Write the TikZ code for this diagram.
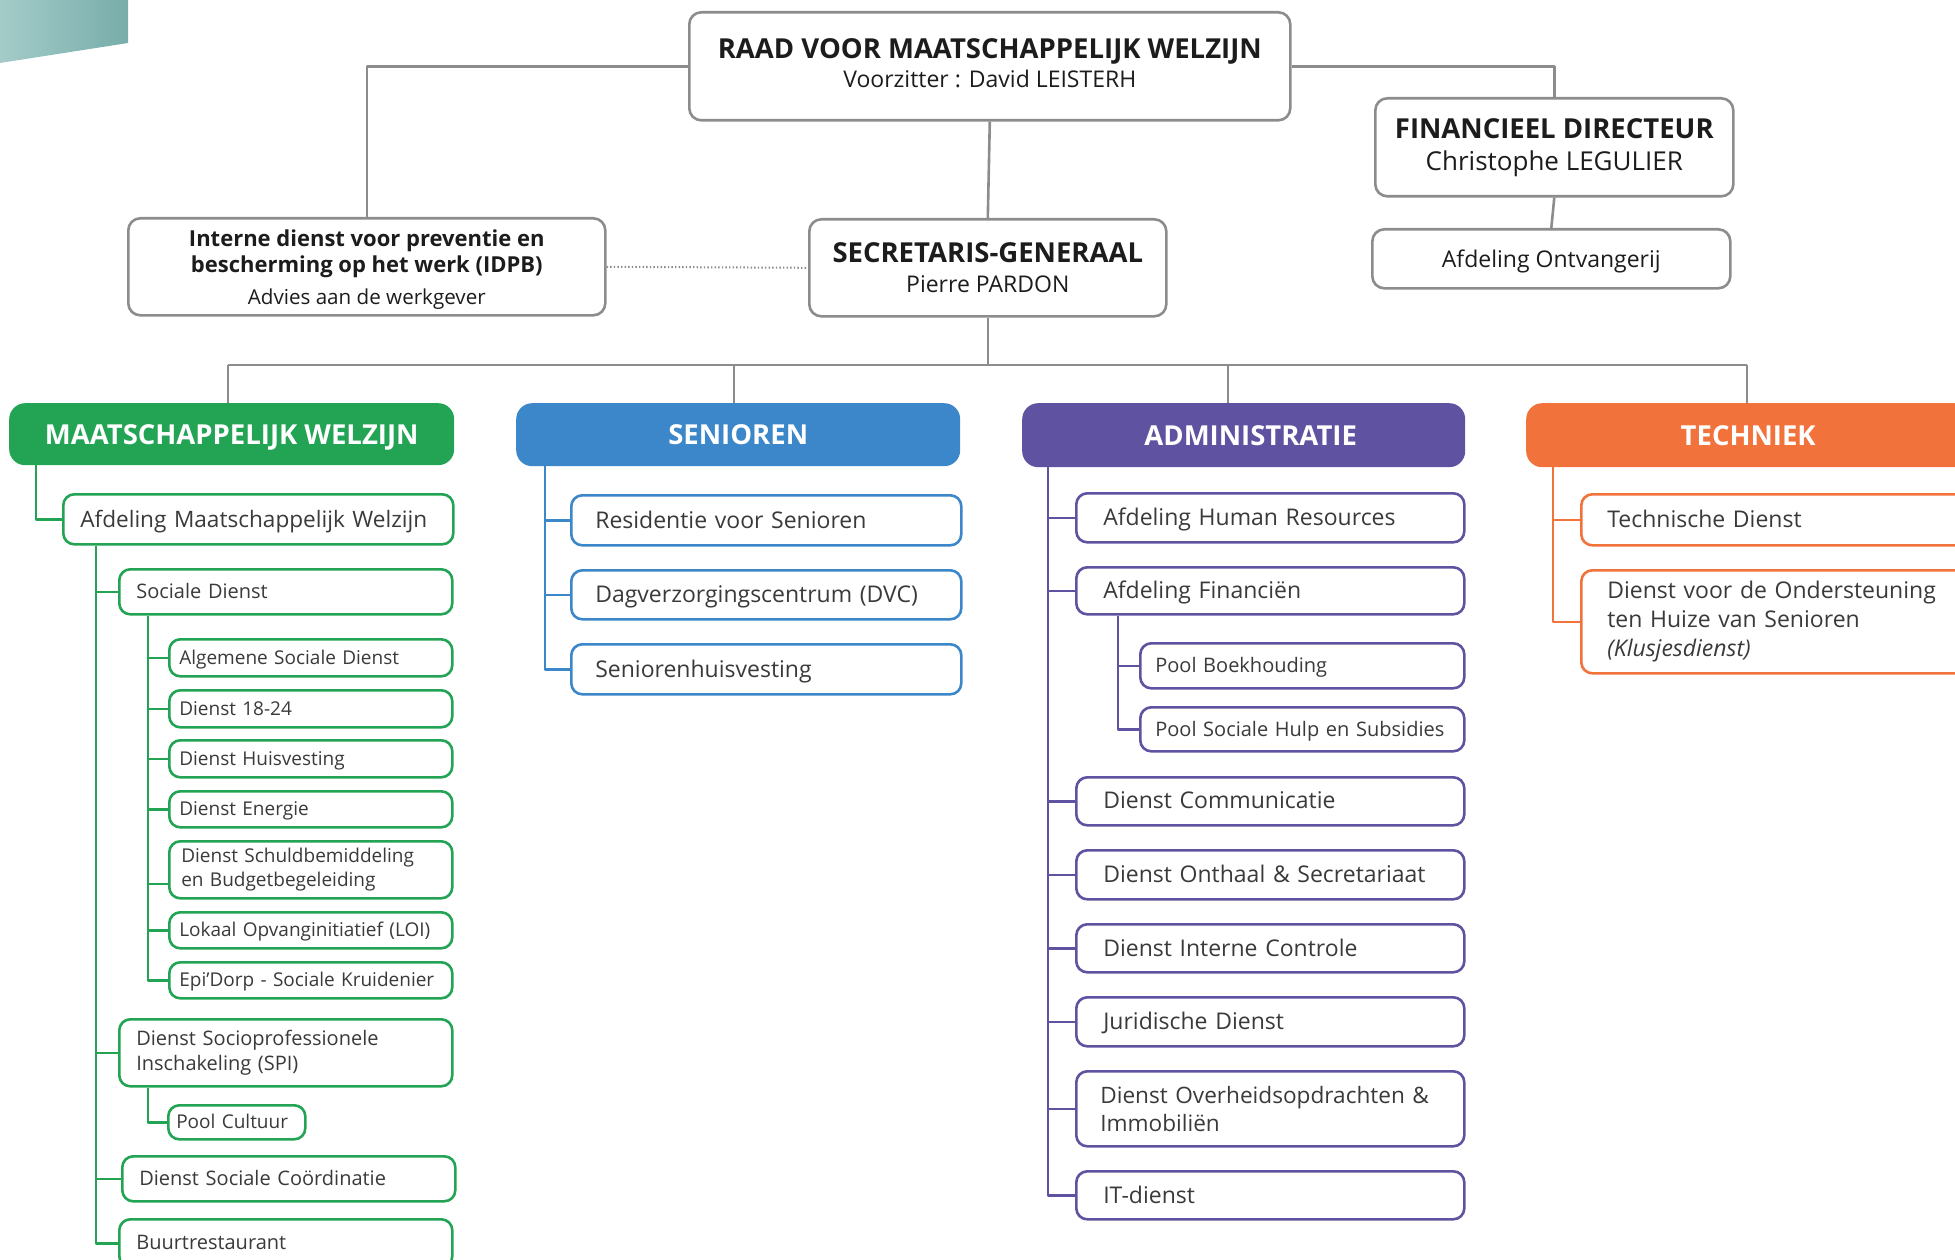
\documentclass[tikz,border=0pt]{standalone}
\usepackage{fontspec}
\setmainfont{Open Sans}

\definecolor{mwgreen}{HTML}{22A454}
\definecolor{senblue}{HTML}{3B87C9}
\definecolor{admpurple}{HTML}{5F53A1}
\definecolor{techorange}{HTML}{F2723B}
\definecolor{linegray}{HTML}{8C8C8C}
\definecolor{txtgray}{HTML}{3A3A3A}
\definecolor{txtdark}{HTML}{1C1C1C}
\definecolor{tealA}{HTML}{A4CBC8}
\definecolor{tealB}{HTML}{77ADAA}

\newcommand{\ttl}{\bfseries\fontsize{27.5}{29}\selectfont}
\hyphenpenalty=10000

\begin{document}
\begin{tikzpicture}[
    x = 1pt, y = -1pt, % one unit per pixel, y downwards
    line join = round
    ]

    \tikzset{
    topbox/.style = {draw = linegray, line width = 2.6pt, rounded corners = 12pt,
      fill = white, anchor = north west, align = center, inner sep = 0pt,
      text = txtdark, font = \fontsize{23}{29}\selectfont},
    head/.style = {fill = #1, rounded corners = 16pt, anchor = north west,
      inner sep = 0pt, text = white, text depth = 0pt,
      font = \bfseries\fontsize{27.5}{32}\selectfont},
    unit/.style = {draw = #1, line width = 2.6pt, rounded corners = 11pt,
      fill = white, anchor = north west, align = left, inner ysep = 0pt,
      text depth = 1.5pt, text = txtgray},
    multi/.style = {text depth = {}}, % boxes with more than one line
    fbig/.style = {font = \fontsize{23}{29}\selectfont},
    fmid/.style = {font = \fontsize{20}{25}\selectfont},
    fsmall/.style = {font = \fontsize{19}{24}\selectfont},
    glev1/.style = {unit = mwgreen, fbig, inner xsep = 19pt, text width = 351pt},
    glev2/.style = {unit = mwgreen, fmid, inner xsep = 17pt, text width = 299pt},
    glev3/.style = {unit = mwgreen, fsmall, inner xsep = 10pt, text width = 263pt},
    blev1/.style = {unit = senblue, fbig, inner xsep = 24pt, text width = 342pt},
    plev1/.style = {unit = admpurple, fbig, inner xsep = 27pt, text width = 334pt},
    plev2/.style = {unit = admpurple, fmid, inner xsep = 15pt, text width = 294pt},
    olev1/.style = {unit = techorange, fbig, inner xsep = 26pt, text width = 348pt},
    link/.style = {draw = #1, line width = 2.6pt}
    }

    \useasboundingbox (0,0) rectangle (1955,1260);
    \clip (0,0) rectangle (1955,1260);

    % corner decoration
    \shade[left color = tealA, right color = tealB] (0,0) -- (128,0) -- (128,43) -- (0,63) -- cycle;

    % top of the chart
    \node[topbox, minimum width = 601pt, minimum height = 108pt, text depth = 7pt] (raad) at (688,11)
      {{\ttl RAAD VOOR MAATSCHAPPELIJK WELZIJN}\\ Voorzitter : David LEISTERH};
    \node[topbox, minimum width = 358pt, minimum height = 98pt] (fin) at (1374,97)
      {{\ttl FINANCIEEL DIRECTEUR}\\[3pt] {\fontsize{26}{31}\selectfont Christophe LEGULIER}};
    \node[topbox, minimum width = 358pt, minimum height = 59pt, text depth = 0pt] (ont) at (1371,228)
      {Afdeling Ontvangerij};
    \node[topbox, minimum width = 357pt, minimum height = 97pt, text depth = 0pt] (sg) at (808,218)
      {{\ttl SECRETARIS-GENERAAL}\\[1pt] Pierre PARDON};
    \node[topbox, minimum width = 477pt, minimum height = 97pt, text depth = 0pt,
      font = \fontsize{22}{26}\selectfont] (idpb) at (127,217)
      {{\bfseries Interne dienst voor preventie en}\\
       {\bfseries bescherming op het werk (IDPB)}\\[6pt]
       {\fontsize{20.6}{26}\selectfont Advies aan de werkgever}};

    \draw[link = linegray] (raad.west) -| (idpb.north);
    \draw[link = linegray] (raad.east) -| (fin.north);
    \draw[link = linegray] (raad.south) -- (sg.north);
    \draw[link = linegray] (fin.south) -- (ont.north);
    \draw[linegray, line width = 2pt, dash pattern = on 1.4pt off 2.2pt] (idpb.east) -- (sg.west);

    % the four departments
    \node[head = mwgreen, minimum width = 445pt, minimum height = 62pt] (mw) at (9,403) {MAATSCHAPPELIJK WELZIJN};
    \node[head = senblue, minimum width = 444pt, minimum height = 63pt] (sen) at (516,403) {SENIOREN};
    \node[head = admpurple, minimum width = 443pt, minimum height = 64pt] (adm) at (1022,403) {\hspace*{14pt}ADMINISTRATIE};
    \node[head = techorange, minimum width = 444pt, minimum height = 64pt] (tech) at (1526,403) {TECHNIEK};

    \coordinate (bl) at (228,365);
    \coordinate (b2) at (734,365);
    \coordinate (b3) at (1228,365);
    \coordinate (br) at (1747,365);
    \draw[link = linegray] (bl) -- (br);
    \draw[link = linegray] (sg.south) -- (sg.south |- bl);
    \draw[link = linegray] (bl) -- (bl |- mw.north);
    \draw[link = linegray] (b2) -- (b2 |- sen.north);
    \draw[link = linegray] (b3) -- (b3 |- adm.north);
    \draw[link = linegray] (br) -- (br |- tech.north);

    % Maatschappelijk Welzijn
    \node[glev1, minimum height = 50pt, inner xsep = 17pt, text width = 356pt,
      font = \fontsize{22.6}{29}\selectfont] (amw) at (62,493) {Afdeling Maatschappelijk Welzijn};
    \node[glev2, minimum height = 45pt] (sd) at (118,568) {Sociale Dienst};
    \node[glev3, minimum height = 37pt] (asd) at (168,638) {Algemene Sociale Dienst};
    \node[glev3, minimum height = 37pt] (d1824) at (168,689) {Dienst 18-24};
    \node[glev3, minimum height = 37pt] (dhv) at (168,739) {Dienst Huisvesting};
    \node[glev3, minimum height = 36pt] (den) at (168,790) {Dienst Energie};
    \node[glev3, multi, minimum height = 57pt, inner xsep = 12pt, text width = 259pt] (dsb) at (168,840)
      {Dienst Schuldbemiddeling\\en Budgetbegeleiding};
    \node[glev3, minimum height = 36pt] (loi) at (168,911) {Lokaal Opvanginitiatief (LOI)};
    \node[glev3, minimum height = 36pt] (epi) at (168,961) {Epi’Dorp - Sociale Kruidenier};
    \node[glev2, multi, minimum height = 67pt] (spi) at (118,1018) {Dienst Socioprofessionele\\Inschakeling (SPI)};
    \node[glev3, minimum height = 34pt, inner xsep = 8pt, text width = 121pt] (pcul) at (167,1104) {Pool Cultuur};
    \node[glev2, minimum height = 45pt] (ssc) at (121,1155) {Dienst Sociale Coördinatie};
    \node[glev2, minimum height = 48pt] (buurt) at (118,1218) {Buurtrestaurant};

    \coordinate (g1) at ([xshift = 27pt]mw.south west);
    \coordinate (g2) at ([xshift = 34pt]amw.south west);
    \coordinate (g3) at ([xshift = 30pt]sd.south west);
    \coordinate (g4) at ([xshift = 30pt]spi.south west);
    \draw[link = mwgreen] (g1) |- (amw.west);
    \foreach \n in {sd, spi, ssc, buurt}
      \draw[link = mwgreen] (g2) |- (\n.west);
    \foreach \n in {asd, d1824, dhv, den, loi, epi}
      \draw[link = mwgreen] (g3) |- (\n.west);
    \draw[link = mwgreen] (g3) |- ([yshift = -14pt]dsb.west);
    \draw[link = mwgreen] (g4) |- (pcul.west);

    % Senioren
    \node[blev1, minimum height = 50pt] (res) at (570,494) {Residentie voor Senioren};
    \node[blev1, minimum height = 49pt] (dvc) at (570,569) {Dagverzorgingscentrum (DVC)};
    \node[blev1, minimum height = 50pt] (shv) at (570,643) {Seniorenhuisvesting};

    \coordinate (s1) at ([xshift = 29pt]sen.south west);
    \foreach \n in {res, dvc, shv}
      \draw[link = senblue] (s1) |- (\n.west);

    % Administratie
    \node[plev1, minimum height = 49pt] (hr) at (1075,492) {Afdeling Human Resources};
    \node[plev1, minimum height = 47pt] (afin) at (1075,566) {Afdeling Financiën};
    \node[plev2, minimum height = 45pt] (pbk) at (1139,642) {Pool Boekhouding};
    \node[plev2, minimum height = 44pt] (psh) at (1139,706) {Pool Sociale Hulp en Subsidies};
    \node[plev1, minimum height = 48pt] (dcom) at (1075,776) {Dienst Communicatie};
    \node[plev1, minimum height = 49pt] (dont) at (1075,849) {Dienst Onthaal \& Secretariaat};
    \node[plev1, minimum height = 48pt] (dic) at (1075,923) {Dienst Interne Controle};
    \node[plev1, minimum height = 49pt] (jur) at (1075,996) {Juridische Dienst};
    \node[plev1, multi, minimum height = 75pt, inner xsep = 24pt, text width = 340pt,
      font = \fontsize{22.6}{28}\selectfont] (dov) at (1075,1070)
      {Dienst Overheidsopdrachten \&\\Immobiliën};
    \node[plev1, minimum height = 48pt] (itd) at (1075,1170) {IT-dienst};

    \coordinate (p1) at ([xshift = 26pt]adm.south west);
    \coordinate (p2) at ([xshift = 43pt]afin.south west);
    \foreach \n in {hr, afin, dcom, dont, dic, jur, dov, itd}
      \draw[link = admpurple] (p1) |- (\n.west);
    \foreach \n in {pbk, psh}
      \draw[link = admpurple] (p2) |- (\n.west);

    % Techniek
    \node[olev1, minimum height = 51pt] (tdi) at (1580,493) {Technische Dienst};
    \node[olev1, multi, minimum height = 103pt] (dos) at (1580,569)
      {Dienst voor de Ondersteuning\\ten Huize van Senioren\\\textit{(Klusjesdienst)}};

    \coordinate (o1) at ([xshift = 27pt]tech.south west);
    \foreach \n in {tdi, dos}
      \draw[link = techorange] (o1) |- (\n.west);
\end{tikzpicture}
\end{document}
